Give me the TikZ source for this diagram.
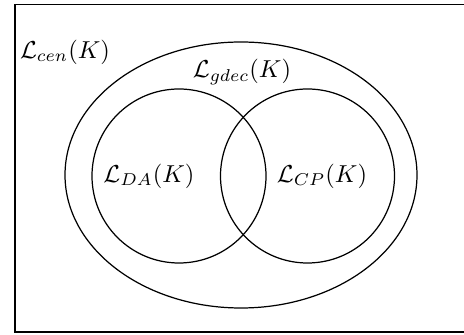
\documentclass[tikz,border=0pt]{standalone}
\usepackage{amsmath, amssymb}
\tikzstyle{lbl}=[inner sep=1pt]
\tikzstyle{set}=[line width=.5pt]
\begin{document}
\begin{tikzpicture}[x=0.01434cm, y=-0.01434cm]
\useasboundingbox (0,0) rectangle (464,335);
\draw[set] (15,4.5) rectangle (480,332);
\draw[set] (241,175) ellipse [x radius=176, y radius=133];
\draw[set] (179,176) circle [radius=87];
\draw[set] (307.5,176) circle [radius=87];
\node at (65,52)[lbl](cen){$\mathcal{L}_{cen}(K)$};
\node at (242,72)[lbl](gdec){$\mathcal{L}_{gdec}(K)$};
\node at (149,176)[lbl](da){$\mathcal{L}_{DA}(K)$};
\node at (322,176)[lbl](cp){$\mathcal{L}_{CP}(K)$};
\end{tikzpicture}
\end{document}
